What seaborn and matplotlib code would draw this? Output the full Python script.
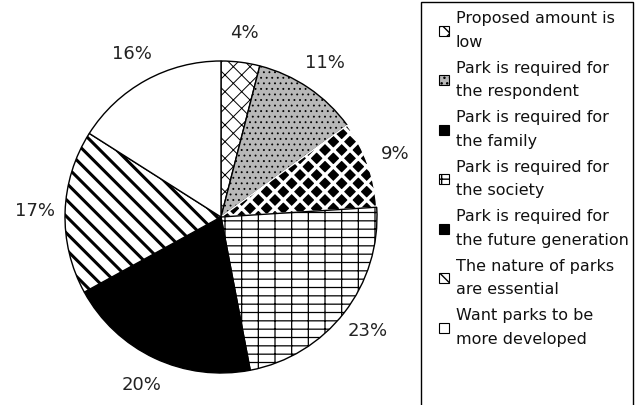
import matplotlib
matplotlib.use('Agg')
import matplotlib.pyplot as plt
import matplotlib.patches as mpatches
import seaborn as sns

# 回答の理由別の割合 (%)
reasons = ['Proposed amount is\nlow',
           'Park is required for\nthe respondent',
           'Park is required for\nthe family',
           'Park is required for\nthe society',
           'Park is required for\nthe future generation',
           'The nature of parks\nare essential',
           'Want parks to be\nmore developed']
shares = [4, 11, 9, 23, 20, 17, 16]

# 白黒の模様
faces = ['white', '#b8b8b8', 'black', 'white', 'black', 'white', 'white']
edges = ['black', 'black', 'white', 'black', 'black', 'black', 'black']
hatches = ['xx', '...', 'xx', '--|', None, '\\\\', None]
hatch_lw = [0.7, 0.6, 2.4, 0.9, 1.0, 2.2, 1.0]

sns.set_theme(style='white')
plt.rcParams['font.family'] = ['DejaVu Sans']

W, H = 637, 405
fig = plt.figure(figsize=(W / 100, H / 100), dpi=100)
fig.patch.set_facecolor('white')

# 円グラフ: 中心 (221, 217) px, 半径 156 px
cx, cy, r, box = 221, 217, 156, 200
ax = fig.add_axes([(cx - box) / W, (H - cy - box) / H, 2 * box / W, 2 * box / H])
wedges, texts, autotexts = ax.pie(
    shares, startangle=90, counterclock=False, radius=1,
    autopct=lambda p: f'{p:.0f}%', pctdistance=1.19,
    wedgeprops=dict(linewidth=1.0),
    textprops=dict(fontsize=13, color='#222222'))
for w, fc, ec, h, lw in zip(wedges, faces, edges, hatches, hatch_lw):
    w.set_facecolor(fc)
    w.set_edgecolor(ec)
    if h:
        w.set_hatch(h)
    if hasattr(w, 'set_hatch_linewidth'):
        w.set_hatch_linewidth(lw)
ax.set_xlim(-box / r, box / r)
ax.set_ylim(-box / r, box / r)
ax.axis('off')

# 凡例
handles = []
for fc, h in zip(faces, hatches):
    p = mpatches.Patch(facecolor=fc, edgecolor='black', hatch=h, linewidth=0.8)
    handles.append(p)
handles[2] = mpatches.Patch(facecolor='black', edgecolor='black', linewidth=0.8)
leg = fig.legend(handles, reasons, loc='upper left',
                 bbox_to_anchor=(439 / W, 1 - 11 / H), frameon=False,
                 fontsize=11.5, handlelength=0.6, handleheight=0.6,
                 handletextpad=0.45, labelspacing=0.68, borderaxespad=0,
                 borderpad=0)
for t in leg.get_texts():
    t.set_linespacing(1.72)
    t.set_color('#111111')

frame = mpatches.Rectangle((421 / W, -0.05), (633 - 421) / W, 1.05 - 2 / H,
                           transform=fig.transFigure, fill=False,
                           edgecolor='black', linewidth=1.0)
fig.patches.append(frame)

fig.savefig('out.png', dpi=100)
